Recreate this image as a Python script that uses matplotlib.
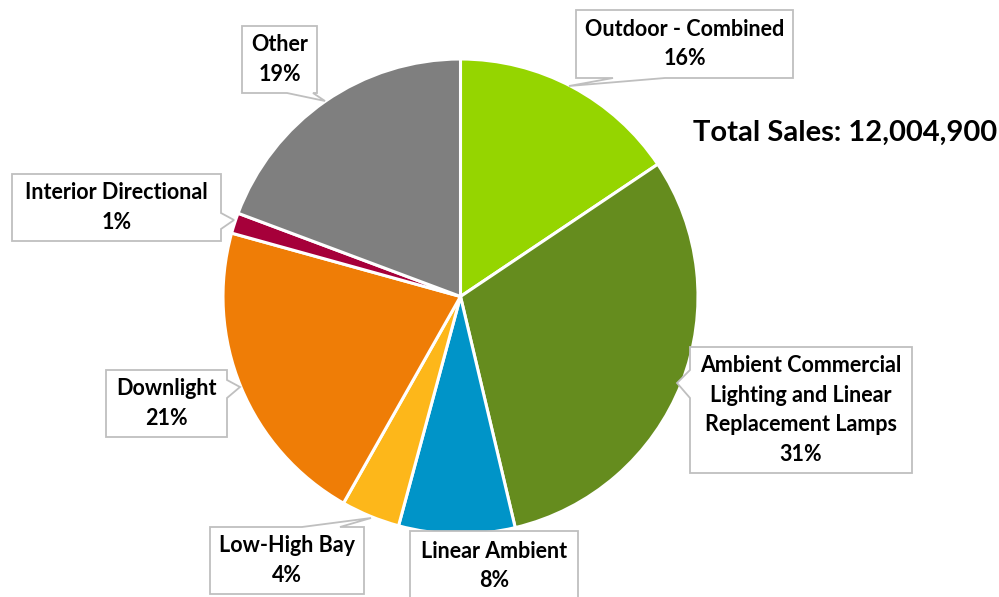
import matplotlib.pyplot as plt
from matplotlib.patches import Polygon

# data (slice sizes, labels show rounded %)
categories = ['Outdoor - Combined',
              'Ambient Commercial\nLighting and Linear\nReplacement Lamps',
              'Linear Ambient', 'Low-High Bay', 'Downlight',
              'Interior Directional', 'Other']
shares = [15.6, 30.7, 7.9, 4.0, 21.1, 1.4, 19.3]
pct_labels = [16, 31, 8, 4, 21, 1, 19]
colors = ['#95D500', '#658C1E', '#0094C8', '#FDB71A', '#EF7D06',
          '#A6003A', '#7F7F7F']
total_sales = '12,004,900'

W, H = 999, 597
plt.rcParams['font.family'] = ['Lato', 'DejaVu Sans']

fig = plt.figure(figsize=(W / 100, H / 100), dpi=100)
ax = fig.add_axes([0, 0, 1, 1])

# pie (pixel coords, y flipped)
cx, cy, r = 460.5, 296.5, 237.5
ax.pie(shares, colors=colors, startangle=90, counterclock=False,
       center=(cx, H - cy), radius=r,
       wedgeprops=dict(edgecolor='white', linewidth=2.2))


def callout(box, side=None, base=None, tip=None):
    # box: x0, y0, x1, y1 in pixels (y down); wedge on one side
    x0, y0, x1, y1 = box
    if side == 'bottom':
        pts = [(x0, y0), (x1, y0), (x1, y1), (base[1], y1), tip,
               (base[0], y1), (x0, y1)]
    elif side == 'top':
        pts = [(x0, y0), (base[0], y0), tip, (base[1], y0), (x1, y0),
               (x1, y1), (x0, y1)]
    elif side == 'right':
        pts = [(x0, y0), (x1, y0), (x1, base[0]), tip, (x1, base[1]),
               (x1, y1), (x0, y1)]
    elif side == 'left':
        pts = [(x0, y0), (x1, y0), (x1, y1), (x0, y1), (x0, base[1]),
               tip, (x0, base[0])]
    else:
        pts = [(x0, y0), (x1, y0), (x1, y1), (x0, y1)]
    pts = [(px, H - py) for px, py in pts]
    ax.add_patch(Polygon(pts, closed=True, facecolor='white',
                         edgecolor='#BFBFBF', linewidth=1.3, zorder=5))


# label boxes, same order as categories
boxes = [
    ((576, 10, 793, 78), 'bottom', (613, 665), (569, 86)),
    ((690, 347, 912, 473), 'left', (370, 398), (677, 383)),
    ((410, 531, 578, 602), None, None, None),
    ((210, 527, 364, 594), 'top', (302, 340), (371, 518)),
    ((106, 370, 227, 437), 'right', (380, 398), (240, 387)),
    ((12, 174, 221, 241), 'right', (213, 229), (234, 220)),
    ((242, 26, 317, 93), 'bottom', (287, 313), (325, 101)),
]

for name, val, (box, side, base, tip) in zip(categories, pct_labels, boxes):
    callout(box, side, base, tip)
    x0, y0, x1, y1 = box
    ty = (y0 + y1) / 2
    if box[3] > H:
        ty = (y0 + 597) / 2 + 2
    ax.text((x0 + x1) / 2, H - ty, f'{name}\n{val}%', ha='center',
            va='center', fontsize=15.5, fontweight='bold', color='black',
            linespacing=1.5, zorder=6)

ax.text(693, H - 133, f'Total Sales: {total_sales}', ha='left', va='center',
        fontsize=21, fontweight='bold', color='black')

ax.set_xlim(0, W)
ax.set_ylim(0, H)
ax.set_aspect('auto')
ax.axis('off')

fig.savefig('out.png', dpi=100)
